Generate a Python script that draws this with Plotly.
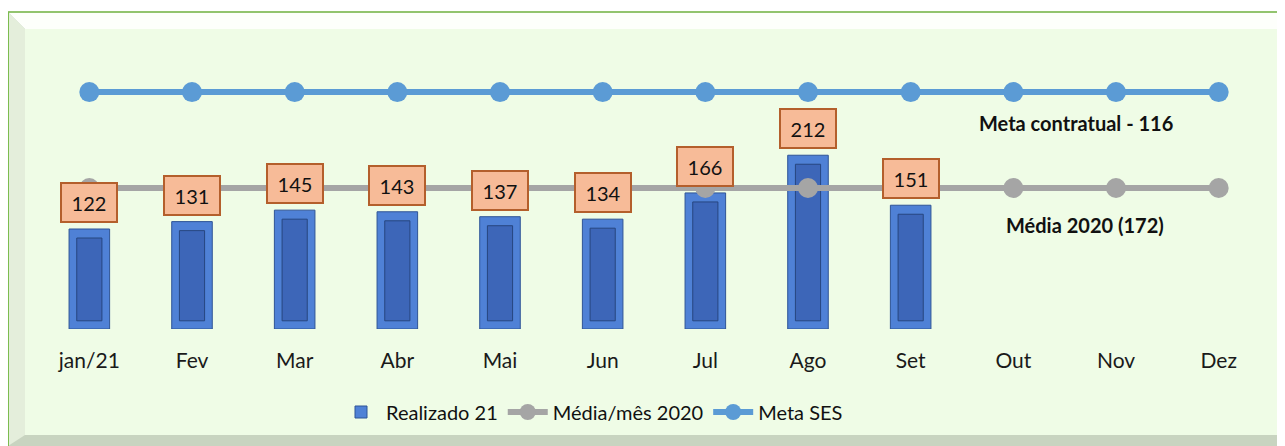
import plotly.graph_objects as go

categories = ["jan/21", "Fev", "Mar", "Abr", "Mai", "Jun", "Jul", "Ago", "Set", "Out", "Nov", "Dez"]
realizado_21 = [122, 131, 145, 143, 137, 134, 166, 212, 151]
media_2020 = [172, 172, 172, 172, 172, 172, 172, 172, 172, 172, 172, 172]
meta_ses = [289, 289, 289, 289, 289, 289, 289, 289, 289, 289, 289, 289]

# page body has an 8px default margin; figure sized to fit the window
OFF = 8
W, H = 1285 - OFF, 446 - OFF
L, R, T, B = 30, 15, 22, 117
PW, PH = W - L - R, H - T - B


def px(x):  # x in window pixels
    return (x - OFF - L) / PW


def py(y):  # y in window pixels
    return (H - B - (y - OFF)) / PH


FONT = "Lato, 'Open Sans', sans-serif"

fig = go.Figure()

months_real = categories[:len(realizado_21)]

fig.add_trace(go.Bar(
    x=months_real, y=realizado_21, width=0.395, name="Realizado 21",
    marker=dict(color="#4f81d6", line=dict(color="#2f5496", width=1)),
    showlegend=True, hoverinfo="skip",
))
fig.add_trace(go.Bar(
    x=months_real, y=[v - 21 for v in realizado_21], base=10, width=0.245,
    marker=dict(color="#3d66b8", line=dict(color="#27467f", width=1)),
    showlegend=False, hoverinfo="skip",
))
fig.add_trace(go.Scatter(
    x=categories, y=media_2020, mode="lines+markers", name="Média/mês 2020",
    line=dict(color="#a5a5a5", width=6), marker=dict(color="#a5a5a5", size=20),
    hoverinfo="skip",
))
fig.add_trace(go.Scatter(
    x=categories, y=meta_ses, mode="lines+markers", name="Meta SES",
    line=dict(color="#5b9bd5", width=6), marker=dict(color="#5b9bd5", size=20),
    hoverinfo="skip",
))

annotations = []
for m, v in zip(months_real, realizado_21):
    annotations.append(dict(
        x=m, y=v, xref="x", yref="y", text=str(v), showarrow=False,
        yanchor="bottom", yshift=6, width=50, height=33, borderpad=2,
        bgcolor="#f7bb98", bordercolor="#b45f2c", borderwidth=2,
        font=dict(family=FONT, size=20, color="#111111"),
    ))

annotations.append(dict(
    x=px(1076), y=py(123), xref="paper", yref="paper", text="<b>Meta contratual - 116</b>",
    xanchor="center", yanchor="middle",
    showarrow=False, font=dict(family=FONT, size=20, color="#111111"),
))
annotations.append(dict(
    x=px(1085), y=py(225), xref="paper", yref="paper", text="<b>Média 2020 (172)</b>",
    xanchor="center", yanchor="middle",
    showarrow=False, font=dict(family=FONT, size=20, color="#111111"),
))

shapes = [
    dict(type="rect", xref="paper", yref="paper", x0=px(8), x1=px(1285), y0=py(446), y1=py(12),
         fillcolor="#c8d4c0", line=dict(width=0), layer="below"),
    dict(type="path", xref="paper", yref="paper",
         path=f"M {px(8)} {py(12)} L {px(1285)} {py(12)} L {px(1281)} {py(29)} L {px(25)} {py(29)} Z",
         fillcolor="#fdfffb", line=dict(width=0), layer="below"),
    dict(type="path", xref="paper", yref="paper",
         path=f"M {px(8)} {py(12)} L {px(25)} {py(29)} L {px(25)} {py(435)} L {px(8)} {py(446)} Z",
         fillcolor="#e4eedb", line=dict(width=0), layer="below"),
    dict(type="rect", xref="paper", yref="paper", x0=px(25), x1=px(1281), y0=py(435), y1=py(29),
         fillcolor="#effce6", line=dict(width=0), layer="below"),
    dict(type="line", xref="paper", yref="paper", x0=px(8), x1=px(1285), y0=py(12), y1=py(12),
         line=dict(color="#92c46e", width=2), layer="below"),
    dict(type="line", xref="paper", yref="paper", x0=px(8), x1=px(8), y0=py(12), y1=py(446),
         line=dict(color="#7cbc4f", width=2), layer="below"),
]

fig.update_layout(
    width=W, height=H,
    margin=dict(l=L, r=R, t=T, b=B),
    paper_bgcolor="white", plot_bgcolor="rgba(0,0,0,0)",
    barmode="overlay",
    font=dict(family=FONT, color="#1a1a1a"),
    xaxis=dict(type="category", categoryorder="array", categoryarray=categories,
               range=[-0.5, 11.5], showgrid=False, showline=False, zeroline=False,
               ticks="", tickfont=dict(family=FONT, size=21, color="#1a1a1a"), ticklabelstandoff=17),
    yaxis=dict(range=[0, PH / 0.8197], showgrid=False, showline=False, zeroline=False,
               showticklabels=False, ticks=""),
    legend=dict(orientation="h", x=px(336), y=py(412), xanchor="left", yanchor="middle",
                bgcolor="rgba(0,0,0,0)", font=dict(family=FONT, size=20, color="#111111"),
                traceorder="normal", itemwidth=40),
    shapes=shapes,
    annotations=annotations,
)

fig.write_html("out.html")
